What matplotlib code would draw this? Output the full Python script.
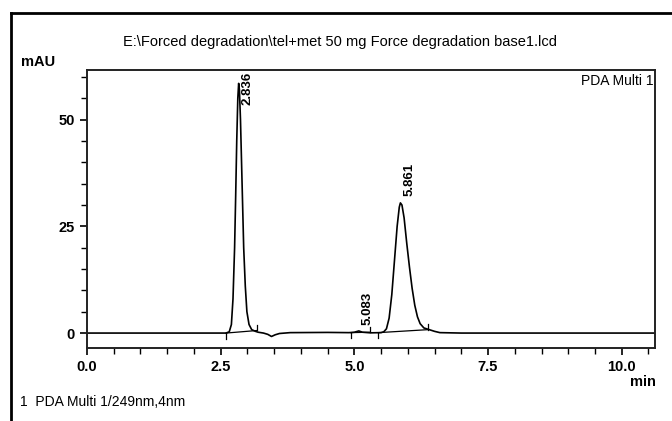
import matplotlib.pyplot as plt
from matplotlib.ticker import MultipleLocator
from matplotlib.lines import Line2D

plt.rcParams['font.family'] = ['Liberation Sans', 'DejaVu Sans']

# chromatogram trace (time in min, signal in mAU)
time_min = [0.0, 1.0, 2.0, 2.5, 2.60, 2.66, 2.70, 2.73, 2.76, 2.78, 2.80, 2.82,
            2.836, 2.85, 2.87, 2.89, 2.91, 2.93, 2.96, 2.99, 3.03, 3.08, 3.15,
            3.20, 3.30, 3.38, 3.45, 3.52, 3.60, 3.80, 4.50, 4.90, 5.00, 5.083,
            5.15, 5.30, 5.50, 5.55, 5.60, 5.65, 5.70, 5.75, 5.80, 5.84, 5.861,
            5.89, 5.93, 5.98, 6.03, 6.08, 6.13, 6.18, 6.23, 6.30, 6.40, 6.50,
            6.60, 7.00, 8.00, 9.00, 10.62]
signal_mau = [0.0, 0.0, 0.0, 0.0, 0.0, 0.3, 2.0, 8.0, 20.0, 32.0, 45.0, 55.0,
              58.5, 57.0, 50.0, 40.0, 30.0, 20.0, 11.0, 5.0, 2.0, 0.8, 0.4,
              0.2, 0.0, -0.3, -0.8, -0.4, -0.1, 0.1, 0.15, 0.1, 0.2, 0.5,
              0.2, 0.05, 0.1, 0.3, 1.0, 3.5, 9.0, 17.0, 25.0, 29.5, 30.5,
              30.0, 27.0, 21.0, 15.5, 10.5, 6.5, 3.8, 2.2, 1.2, 0.8, 0.4,
              0.1, 0.0, 0.0, 0.0, 0.0]

# peak table
peak_rt = [2.836, 5.083, 5.861]
peak_height = [58.5, 0.5, 30.5]
peak_start = [2.60, 4.93, 5.45]
peak_end = [3.18, 5.30, 6.38]
start_level = [0.0, 0.1, 0.1]
end_level = [0.6, 0.2, 0.8]

fig = plt.figure(figsize=(6.72, 4.21), dpi=100)
ax = fig.add_axes([0.1295, 0.1734, 0.845, 0.660])

ax.plot(time_min, signal_mau, color='black', lw=1.2)

# integration baselines and start/end marks
for s, e, ls, le in zip(peak_start, peak_end, start_level, end_level):
    ax.plot([s, e], [ls, le], color='black', lw=0.9)
    ax.plot([s, s], [ls, ls - 1.3], color='black', lw=0.9)
    ax.plot([e, e], [le, le + 1.3], color='black', lw=0.9)

# retention time labels
for rt, h in zip(peak_rt, peak_height):
    top = h + 1.5
    if top + 9 > 61.5:
        ax.text(rt + 0.06, 61.2, f'{rt:.3f}', rotation=90, ha='left', va='top',
                fontsize=9.5, fontweight='bold')
    else:
        ax.text(rt + 0.06, top, f'{rt:.3f}', rotation=90, ha='left', va='bottom',
                fontsize=9.5, fontweight='bold')

ax.set_xlim(0, 10.62)
ax.set_ylim(-3.5, 61.6)
ax.xaxis.set_major_locator(MultipleLocator(2.5))
ax.xaxis.set_minor_locator(MultipleLocator(0.5))
ax.yaxis.set_major_locator(MultipleLocator(25))
ax.yaxis.set_minor_locator(MultipleLocator(5))
ax.xaxis.set_major_formatter(lambda v, p: f'{v:.1f}')
ax.yaxis.set_major_formatter(lambda v, p: f'{v:.0f}')
ax.tick_params(which='major', direction='out', length=5, width=1.2,
               labelsize=10.5, pad=4)
ax.tick_params(which='minor', direction='out', length=4, width=1.0)
for lab in ax.get_xticklabels() + ax.get_yticklabels():
    lab.set_fontweight('bold')
for sp in ax.spines.values():
    sp.set_linewidth(1.4)
    sp.set_color('#222222')

ax.text(0.997, 0.985, 'PDA Multi 1', transform=ax.transAxes, ha='right',
        va='top', fontsize=10)

fig.text(0.506, 0.900, r'E:\Forced degradation\tel+met 50 mg Force degradation base1.lcd',
         ha='center', va='center', fontsize=10.5)
fig.text(38 / 672, 1 - 62 / 421, 'mAU', ha='center', va='center', fontsize=10.5,
         fontweight='bold')
fig.text(656 / 672, 1 - 382 / 421, 'min', ha='right', va='center', fontsize=10.5,
         fontweight='bold')
fig.text(20 / 672, 1 - 402 / 421, '1  PDA Multi 1/249nm,4nm', ha='left',
         va='center', fontsize=10)

# outer frame of the scanned report
fig.add_artist(Line2D([11 / 672, 11 / 672], [0, 1 - 13 / 421], color='black',
                      lw=2, transform=fig.transFigure))
fig.add_artist(Line2D([11 / 672, 1], [1 - 13 / 421, 1 - 13 / 421], color='black',
                      lw=2, transform=fig.transFigure))

fig.savefig('out.png', dpi=100)
